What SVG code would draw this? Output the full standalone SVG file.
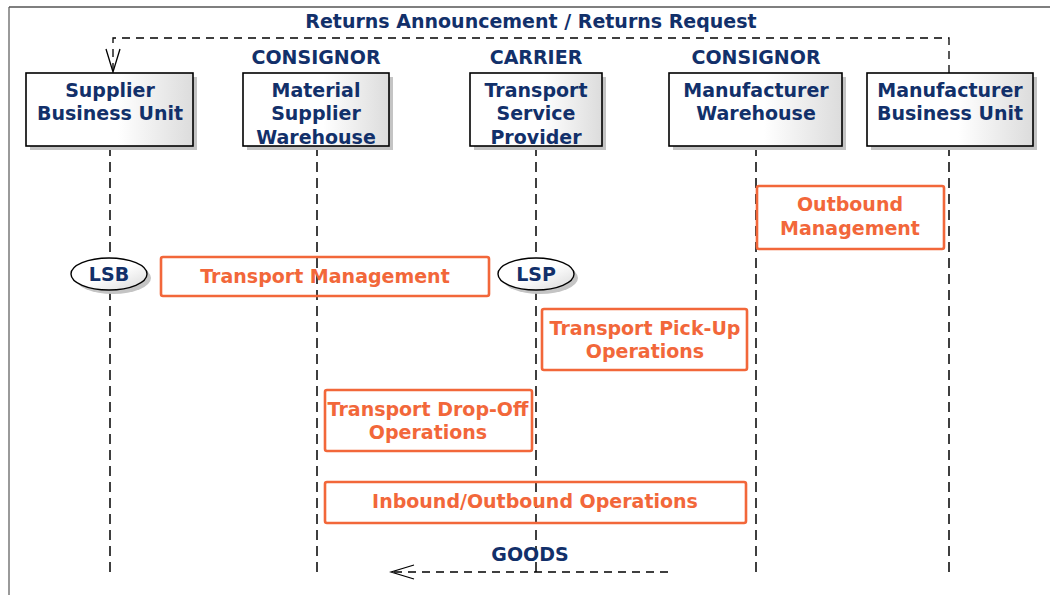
<svg xmlns="http://www.w3.org/2000/svg" width="1050" height="595" viewBox="0 0 1050 595">
<defs>
<linearGradient id="boxg" x1="0" y1="0" x2="1" y2="0">
<stop offset="0" stop-color="#ffffff"/>
<stop offset="0.55" stop-color="#ffffff"/>
<stop offset="1" stop-color="#dcdcdc"/>
</linearGradient>
<linearGradient id="ellg" x1="0" y1="0" x2="1" y2="1">
<stop offset="0" stop-color="#ffffff"/>
<stop offset="0.5" stop-color="#ffffff"/>
<stop offset="1" stop-color="#d8d8d8"/>
</linearGradient>
<marker id="openArrow" markerWidth="26" markerHeight="18" refX="24" refY="8" orient="auto" markerUnits="userSpaceOnUse">
<path d="M1,1 L24,8 L1,15" fill="none" stroke="#000" stroke-width="1.3"/>
</marker>
</defs>
<style>
.shadow{fill:#c4c4c4;}
.box{fill:url(#boxg);stroke:#000;stroke-width:1.6;}
.ell{fill:url(#ellg);stroke:#000;stroke-width:1.4;}
.life{stroke:#000;stroke-width:1.5;stroke-dasharray:10,6;fill:none;}
.msg{stroke:#000;stroke-width:1.3;stroke-dasharray:8,6;fill:none;}
.act{fill:none;stroke:#F2673A;stroke-width:2.6;}
.nt{font-family:"DejaVu Sans",Verdana,sans-serif;font-weight:bold;font-size:19px;fill:#12306A;text-anchor:middle;}
.ot{font-family:"DejaVu Sans",Verdana,sans-serif;font-weight:bold;font-size:19px;fill:#F2673A;text-anchor:middle;}
</style>
<rect width="1050" height="595" fill="#ffffff"/>
<path d="M9,595 L9,7" stroke="#9a9a9a" stroke-width="2" fill="none"/>
<path d="M9,7 L1050,7" stroke="#555" stroke-width="1.5" fill="none"/>

<g id="connectors">
<path class="life" d="M110,146 L110,578"/>
<path class="life" d="M317,146 L317,578"/>
<path class="life" d="M536,146 L536,578"/>
<path class="life" d="M756,146 L756,578"/>
<path class="life" d="M949,146 L949,578"/>
<path class="msg" d="M949,73 L949,38 L113,38 L113,72" marker-end="url(#openArrow)"/>
<text class="nt" x="531" y="28">Returns Announcement / Returns Request</text>
<path class="msg" d="M668,572 L391,572" marker-end="url(#openArrow)"/>
<text class="nt" x="530" y="561">GOODS</text>
</g>

<g id="supplier-business-unit">
<rect class="shadow" x="30" y="77" width="167" height="73"/>
<rect class="box" x="26" y="73" width="167" height="73"/>
<text class="nt" x="110" y="97">Supplier</text>
<text class="nt" x="110" y="120">Business Unit</text>
</g>

<g id="material-supplier-warehouse">
<text class="nt" x="316" y="64">CONSIGNOR</text>
<rect class="shadow" x="247" y="77" width="146" height="73"/>
<rect class="box" x="243" y="73" width="146" height="73"/>
<text class="nt" x="316" y="97">Material</text>
<text class="nt" x="316" y="120">Supplier</text>
<text class="nt" x="316" y="144">Warehouse</text>
</g>

<g id="transport-service-provider">
<text class="nt" x="536" y="64">CARRIER</text>
<rect class="shadow" x="474" y="77" width="132" height="73"/>
<rect class="box" x="470" y="73" width="132" height="73"/>
<text class="nt" x="536" y="97">Transport</text>
<text class="nt" x="536" y="120">Service</text>
<text class="nt" x="536" y="144">Provider</text>
</g>

<g id="manufacturer-warehouse">
<text class="nt" x="756" y="64">CONSIGNOR</text>
<rect class="shadow" x="673" y="77" width="173" height="73"/>
<rect class="box" x="669" y="73" width="173" height="73"/>
<text class="nt" x="756" y="97">Manufacturer</text>
<text class="nt" x="756" y="120">Warehouse</text>
</g>

<g id="manufacturer-business-unit">
<rect class="shadow" x="871" y="77" width="166" height="73"/>
<rect class="box" x="867" y="73" width="166" height="73"/>
<text class="nt" x="950" y="97">Manufacturer</text>
<text class="nt" x="950" y="120">Business Unit</text>
</g>

<g id="lsb">
<ellipse class="shadow" cx="113" cy="278" rx="38" ry="16"/>
<ellipse class="ell" cx="109" cy="274" rx="38" ry="16"/>
<text class="nt" x="109" y="281">LSB</text>
</g>

<g id="lsp">
<ellipse class="shadow" cx="540" cy="278" rx="38" ry="16"/>
<ellipse class="ell" cx="536" cy="274" rx="38" ry="16"/>
<text class="nt" x="536" y="281">LSP</text>
</g>

<g id="outbound-management">
<rect class="act" x="757" y="186" width="187" height="63" rx="2"/>
<text class="ot" x="850" y="211">Outbound</text>
<text class="ot" x="850" y="235">Management</text>
</g>

<g id="transport-management">
<rect class="act" x="161" y="257" width="328" height="39" rx="2"/>
<text class="ot" x="325" y="283">Transport Management</text>
</g>

<g id="transport-pick-up-operations">
<rect class="act" x="542" y="309" width="205" height="61" rx="2"/>
<text class="ot" x="645" y="335">Transport Pick-Up</text>
<text class="ot" x="645" y="358">Operations</text>
</g>

<g id="transport-drop-off-operations">
<rect class="act" x="325" y="390" width="207" height="61" rx="2"/>
<text class="ot" x="428" y="416">Transport Drop-Off</text>
<text class="ot" x="428" y="439">Operations</text>
</g>

<g id="inbound-outbound-operations">
<rect class="act" x="325" y="482" width="421" height="41" rx="2"/>
<text class="ot" x="535" y="508">Inbound/Outbound Operations</text>
</g>
</svg>
